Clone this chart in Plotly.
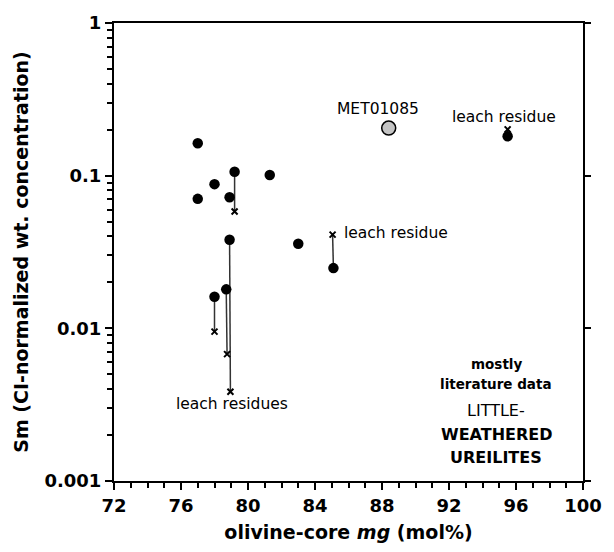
import math
import plotly.graph_objects as go

# ---- data ----
bulk_mg = [77.0, 79.2, 81.3, 78.0, 77.0, 78.9, 78.9, 83.0, 85.1, 78.0, 78.7, 95.5]
bulk_sm = [0.163, 0.106, 0.101, 0.088, 0.0705, 0.0723, 0.038, 0.0358, 0.0248, 0.0161, 0.018, 0.181]

# leach residues and the bulk sample (index into bulk arrays) each belongs to
res_parent = [1, 6, 10, 9, 8, 11]
res_mg = [79.2, 78.95, 78.75, 78.0, 85.05, 95.5]
res_sm = [0.0583, 0.00384, 0.00678, 0.00952, 0.0411, 0.201]

met_mg = [88.4]
met_sm = [0.205]
met_name = ["MET01085"]

x_ticks = [72, 76, 80, 84, 88, 92, 96, 100]
x_ticktext = ["72", "76", "80", "84", "88", "92", "96", "100"]
y_ticks = [0.001, 0.01, 0.1, 1]
y_ticktext = ["0.001", "0.01", "0.1", "1"]

FONT = "DejaVu Sans, Liberation Sans, Arial, sans-serif"

# connecting segments bulk -> residue
lx, ly = [], []
for p, m, s in zip(res_parent, res_mg, res_sm):
    lx += [bulk_mg[p], m, None]
    ly += [bulk_sm[p], s, None]

fig = go.Figure()
fig.add_trace(go.Scatter(x=lx, y=ly, mode="lines",
                         line=dict(color="#333333", width=1.5), showlegend=False,
                         hoverinfo="skip"))
fig.add_trace(go.Scatter(x=res_mg, y=res_sm, mode="markers",
                         marker=dict(symbol="x-thin", size=6, color="black",
                                     line=dict(color="black", width=2)),
                         showlegend=False))
fig.add_trace(go.Scatter(x=bulk_mg, y=bulk_sm, mode="markers",
                         marker=dict(symbol="circle", size=10.5, color="black"),
                         showlegend=False))
fig.add_trace(go.Scatter(x=met_mg, y=met_sm, mode="markers",
                         marker=dict(symbol="circle", size=14, color="#c4c4c4",
                                     line=dict(color="black", width=1.5)),
                         showlegend=False))
# dummy trace to carry the right-hand axis
fig.add_trace(go.Scatter(x=[None], y=[None], yaxis="y2", showlegend=False))

minor_y = [k * 10 ** e for e in (-3, -2, -1) for k in range(2, 10)]

fig.update_layout(
    width=614, height=552,
    margin=dict(l=114, r=20, t=22, b=69),
    paper_bgcolor="white", plot_bgcolor="white",
    font=dict(family=FONT, color="black"),
    xaxis=dict(
        range=[72, 100], tickmode="array", tickvals=x_ticks,
        ticktext=["<b>%s</b>" % t for t in x_ticktext],
        ticks="outside", ticklen=7, tickwidth=2, tickcolor="black",
        showline=True, linewidth=2, linecolor="black", mirror=True,
        showgrid=False, zeroline=False,
        tickfont=dict(size=18, family=FONT),
        minor=dict(dtick=1, tick0=72, ticks="outside", ticklen=5, tickwidth=1.5,
                   tickcolor="black", showgrid=False),
        title=dict(text="<b>olivine-core <i>mg</i> (mol%)</b>",
                   font=dict(size=19, family=FONT), standoff=11),
    ),
    yaxis=dict(
        type="log", range=[-3, 0], tickmode="array", tickvals=y_ticks,
        ticktext=["<b>%s</b>" % t for t in y_ticktext],
        ticks="outside", ticklen=7, tickwidth=2, tickcolor="black",
        showline=True, linewidth=2, linecolor="black", mirror=True,
        showgrid=False, zeroline=False,
        tickfont=dict(size=18, family=FONT),
        minor=dict(tickmode="array", tickvals=minor_y, ticks="outside", ticklen=5,
                   tickwidth=1.5, tickcolor="black", showgrid=False),
        title=dict(text="<b>Sm (CI-normalized wt. concentration)</b>",
                   font=dict(size=19, family=FONT), standoff=11),
    ),
    yaxis2=dict(
        type="log", range=[-3, 0], overlaying="y", side="right",
        tickmode="array", tickvals=y_ticks, showticklabels=False,
        ticks="outside", ticklen=7, tickwidth=2, tickcolor="black",
        showline=False, showgrid=False, zeroline=False,
    ),
)

def note(x, ylog, text, size=15.5, xanchor="center"):
    fig.add_annotation(x=x, y=ylog, xref="x", yref="y", text=text, showarrow=False,
                       xanchor=xanchor, yanchor="middle",
                       font=dict(size=size, family=FONT, color="black"))

note(79.06, math.log10(0.00318), "leach residues")
note(met_mg[0] - 0.65, math.log10(0.272), met_name[0])
note(95.28, math.log10(0.241), "leach residue")
note(85.6, math.log10(0.0424), "leach residue", xanchor="left")

# bottom-right caption (paper coords)
def cap(ypx, text, size):
    fig.add_annotation(x=(505 - 114) / 480, y=1 - (ypx - 22) / 461, xref="paper",
                       yref="paper", text=text, showarrow=False, xanchor="center",
                       yanchor="middle",
                       font=dict(size=size, family=FONT, color="black"))

cap(365, "<b>mostly</b>", 13.5)
cap(385, "<b>literature data</b>", 13.5)
cap(412, "LITTLE-", 16)
cap(436, "<b>WEATHERED</b>", 16)
cap(459, "<b>UREILITES</b>", 16)

fig.write_html("out.html")
